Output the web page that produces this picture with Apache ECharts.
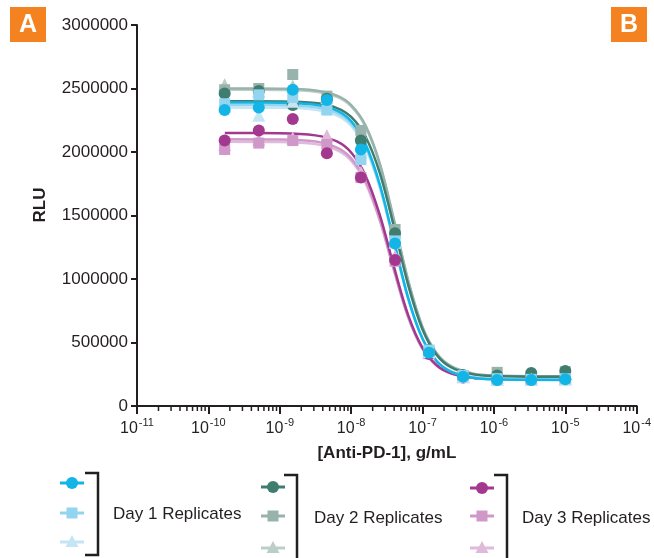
<!DOCTYPE html>
<html>
<head>
<meta charset="utf-8">
<script src="https://cdn.jsdelivr.net/npm/echarts@6/dist/echarts.min.js"></script>
<style>html,body{margin:0;padding:0;background:#fff}#c{width:654px;height:558px}</style>
</head>
<body>
<div id="c"></div>
<script>
// ---- data ----
const conc = [1.69e-10, 5.08e-10, 1.52e-9, 4.57e-9, 1.37e-8, 4.12e-8, 1.23e-7, 3.70e-7, 1.11e-6, 3.33e-6, 1.00e-5];
const yTicks = [0, 500000, 1000000, 1500000, 2000000, 2500000, 3000000];
const xTickExponents = [-11, -10, -9, -8, -7, -6, -5, -4];
const seriesNames = ['Day 1 Rep 1','Day 1 Rep 2','Day 1 Rep 3','Day 2 Rep 1','Day 2 Rep 2','Day 2 Rep 3','Day 3 Rep 1','Day 3 Rep 2','Day 3 Rep 3'];
const dayLabels = ['Day 1 Replicates','Day 2 Replicates','Day 3 Replicates'];

const d1r1 = [2330000, 2350000, 2490000, 2410000, 2020000, 1280000, 420000, 230000, 205000, 205000, 210000];
const d1r2 = [2380000, 2450000, 2430000, 2330000, 1940000, 1300000, 440000, 240000, 215000, 210000, 215000];
const d1r3 = [2360000, 2290000, 2400000, 2350000, 2000000, 1290000, 430000, 235000, 210000, 210000, 210000];
const d2r1 = [2460000, 2480000, 2370000, 2420000, 2090000, 1360000, 440000, 245000, 240000, 260000, 275000];
const d2r2 = [2490000, 2500000, 2610000, 2440000, 2170000, 1390000, 430000, 240000, 265000, 235000, 270000];
const d2r3 = [2530000, 2480000, 2520000, 2430000, 2150000, 1370000, 430000, 235000, 225000, 225000, 230000];
const d3r1 = [2090000, 2170000, 2260000, 1990000, 1800000, 1150000, 410000, 225000, 205000, 205000, 210000];
const d3r2 = [2020000, 2070000, 2090000, 2060000, 1800000, 1140000, 420000, 230000, 210000, 210000, 215000];
const d3r3 = [2060000, 2100000, 2110000, 2130000, 1840000, 1180000, 420000, 230000, 210000, 210000, 215000];

// fitted curves
const curveConc = [1.7e-10, 1e-9, 3.16e-9, 6.31e-9, 1e-8, 1.58e-8, 2.51e-8, 3.98e-8, 6.31e-8, 1e-7, 1.58e-7, 2.51e-7, 5.01e-7, 1e-6, 1e-5];
const fit1r1 = [2390000, 2388000, 2372000, 2326000, 2243000, 2066000, 1747000, 1298000, 848000, 529000, 352000, 269000, 223000, 210000, 205000];
const fit1r2 = [2370000, 2368000, 2352000, 2307000, 2224000, 2050000, 1735000, 1290000, 845000, 530000, 356000, 273000, 227000, 215000, 210000];
const fit1r3 = [2350000, 2348000, 2333000, 2287000, 2206000, 2033000, 1720000, 1280000, 840000, 527000, 354000, 273000, 227000, 215000, 210000];
const fit2r1 = [2400000, 2398000, 2385000, 2346000, 2276000, 2124000, 1838000, 1410000, 950000, 602000, 402000, 305000, 251000, 236000, 230000];
const fit2r2 = [2500000, 2498000, 2485000, 2444000, 2370000, 2212000, 1913000, 1466000, 987000, 623000, 415000, 314000, 257000, 241000, 235000];
const fit2r3 = [2490000, 2488000, 2475000, 2434000, 2360000, 2202000, 1903000, 1456000, 977000, 613000, 405000, 304000, 247000, 231000, 225000];
const fit3r1 = [2150000, 2148000, 2131000, 2083000, 1996000, 1817000, 1506000, 1095000, 713000, 457000, 321000, 258000, 223000, 214000, 210000];
const fit3r2 = [2100000, 2098000, 2082000, 2034000, 1950000, 1776000, 1473000, 1073000, 700000, 451000, 318000, 257000, 223000, 213000, 210000];
const fit3r3 = [2080000, 2078000, 2062000, 2015000, 1932000, 1759000, 1460000, 1064000, 695000, 448000, 317000, 256000, 223000, 213000, 210000];

// ---- styling ----
const colors = ['#12B5E6', '#93D4F0', '#C3E5F4', '#3F7D6F', '#97B3AC', '#BCCEC8', '#A3388F', '#CF98C9', '#DFBADB'];
const symbols = ['circle', 'rect', 'triangle', 'circle', 'rect', 'triangle', 'circle', 'rect', 'triangle'];
const pts = [d1r1, d1r2, d1r3, d2r1, d2r2, d2r3, d3r1, d3r2, d3r3];
const fits = [fit1r1, fit1r2, fit1r3, fit2r1, fit2r2, fit2r3, fit3r1, fit3r2, fit3r3];
const zOrder = [9, 8, 7, 6, 5, 4, 3, 2, 1];
const ink = '#231F20';
const FONT = 'Liberation Sans, Arial, sans-serif';

const series = [];
fits.forEach((f, i) => {
  series.push({
    name: seriesNames[i], type: 'line', smooth: 0.35, showSymbol: false, symbol: 'none',
    data: curveConc.map((c, j) => [c, f[j]]),
    lineStyle: { color: colors[i], width: 2.5 }, z: 2 + zOrder[i] * 0.01, silent: true
  });
});
pts.forEach((p, i) => {
  series.push({
    name: seriesNames[i], type: 'scatter', symbol: symbols[i],
    symbolSize: symbols[i] === 'rect' ? 11 : (symbols[i] === 'triangle' ? 13 : 12),
    data: conc.map((c, j) => [c, p[j]]),
    itemStyle: { color: colors[i], opacity: 1 }, z: 3 + zOrder[i] * 0.1
  });
});
// minor ticks of the log axis (2..9 in each decade)
const minorTicks = [];
for (let e = -11; e < -4; e++) for (let m = 2; m <= 9; m++) minorTicks.push([m * Math.pow(10, e), 0]);
series.push({
  type: 'custom', silent: true, clip: false, z: 10,
  data: minorTicks,
  renderItem: (params, api) => {
    const p = api.coord([api.value(0), 0]);
    return { type: 'line', shape: { x1: p[0], y1: p[1], x2: p[0], y2: p[1] + 5 }, style: { stroke: ink, lineWidth: 1.5 } };
  }
});

const graphic = [];
function badge(x, letter) {
  graphic.push({ type: 'rect', x: x, y: 7, shape: { x: 0, y: 0, width: 36, height: 35 }, style: { fill: '#F58220' } });
  graphic.push({ type: 'text', x: x + 18, y: 25, style: { text: letter, fill: '#fff', font: 'bold 25px ' + FONT, align: 'center', verticalAlign: 'middle' } });
}
badge(10, 'A');
badge(611, 'B');
graphic.push({ type: 'text', x: 40, y: 205, rotation: Math.PI / 2, style: { text: 'RLU', fill: ink, font: 'bold 17px ' + FONT, align: 'center', verticalAlign: 'middle' } });

const legendCfg = [
  { mx: 72, ys: [483, 513, 542], bx: 98, by1: 473, by2: 555, tx: 113, ty: 514 },
  { mx: 273, ys: [487, 516, 548], bx: 297, by1: 475, by2: 566, tx: 314, ty: 518 },
  { mx: 482, ys: [488, 516, 548], bx: 507, by1: 475, by2: 566, tx: 522, ty: 518 }
];
legendCfg.forEach((L, d) => {
  L.ys.forEach((y, k) => {
    const i = d * 3 + k;
    graphic.push({ type: 'line', shape: { x1: L.mx - 12, y1: y, x2: L.mx + 12, y2: y }, style: { stroke: colors[i], lineWidth: 3 } });
    if (symbols[i] === 'circle') graphic.push({ type: 'circle', shape: { cx: L.mx, cy: y, r: 6 }, style: { fill: colors[i] } });
    else if (symbols[i] === 'rect') graphic.push({ type: 'rect', shape: { x: L.mx - 5.5, y: y - 5.5, width: 11, height: 11 }, style: { fill: colors[i] } });
    else graphic.push({ type: 'polygon', shape: { points: [[L.mx, y - 7], [L.mx + 6.5, y + 5], [L.mx - 6.5, y + 5]] }, style: { fill: colors[i] } });
  });
  graphic.push({ type: 'polyline', shape: { points: [[L.bx - 13, L.by1], [L.bx, L.by1], [L.bx, L.by2], [L.bx - 13, L.by2]] }, style: { stroke: ink, lineWidth: 2.5, fill: null } });
  graphic.push({ type: 'text', x: L.tx, y: L.ty, style: { text: dayLabels[d], fill: ink, font: '17px ' + FONT, align: 'left', verticalAlign: 'middle' } });
});

const chart = echarts.init(document.getElementById('c'), null, { renderer: 'canvas' });
chart.setOption({
  animation: false,
  backgroundColor: '#fff',
  grid: { left: 137, right: 13, top: 25, bottom: 152, containLabel: false },
  xAxis: {
    type: 'log', logBase: 10, min: 1e-11, max: 1e-4,
    name: '[Anti-PD-1], g/mL', nameLocation: 'middle', nameGap: 39,
    nameTextStyle: { fontFamily: FONT, fontWeight: 'bold', fontSize: 17, color: ink },
    axisLine: { onZero: false, lineStyle: { color: ink, width: 2 } },
    axisTick: { show: true, length: 8, lineStyle: { color: ink, width: 2 } },
    splitLine: { show: false },
    axisLabel: {
      margin: 11, color: ink, fontFamily: FONT,
      formatter: v => {
        const e = Math.round(Math.log10(v));
        return xTickExponents.indexOf(e) >= 0 ? '{b|10}{s|' + e + '}' : '';
      },
      rich: {
        b: { fontSize: 16, fontFamily: FONT, color: ink, verticalAlign: 'bottom', lineHeight: 20 },
        s: { fontSize: 11, fontFamily: FONT, color: ink, verticalAlign: 'top', lineHeight: 20, padding: [0, 0, 0, 1] }
      }
    }
  },
  yAxis: {
    type: 'value', min: yTicks[0], max: yTicks[yTicks.length - 1], interval: yTicks[1] - yTicks[0],
    axisLine: { show: true, lineStyle: { color: ink, width: 2 } },
    axisTick: { show: true, length: 6, lineStyle: { color: ink, width: 2 } },
    splitLine: { show: false },
    axisLabel: { margin: 9, fontSize: 17, fontFamily: FONT, color: ink, formatter: v => String(v) }
  },
  series: series,
  graphic: graphic
});
</script>
</body>
</html>
